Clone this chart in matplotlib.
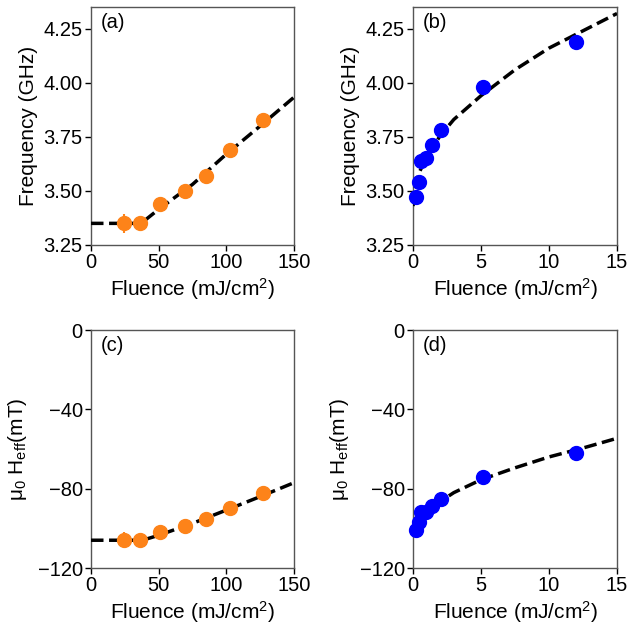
import numpy as np
import matplotlib.pyplot as plt

plt.rcParams['font.family'] = ['Liberation Sans', 'DejaVu Sans']
plt.rcParams['mathtext.default'] = 'regular'

# panel (a)/(c): high fluence, orange
fluence_hi = [24.5, 36, 51, 69.5, 85, 103, 127]
freq_hi = [3.35, 3.35, 3.44, 3.50, 3.57, 3.69, 3.83]
freq_hi_err = [0.045, 0.01, 0.01, 0.01, 0.01, 0.01, 0.01]
heff_hi = [-106, -106, -102, -99, -95.5, -89.6, -82.4]
heff_hi_err = [4, 1, 1, 1, 1, 1, 1]

fit_x_hi = [0, 35, 40, 50, 75, 100, 125, 150]
fit_freq_hi = [3.35, 3.35, 3.365, 3.415, 3.53, 3.67, 3.80, 3.933]
fit_heff_hi = [-106, -106, -105.6, -103.5, -97.5, -90.8, -84, -77]

# panel (b)/(d): low fluence, blue
fluence_lo = [0.25, 0.42, 0.59, 0.98, 1.4, 2.06, 5.15, 12.0]
freq_lo = [3.47, 3.54, 3.64, 3.65, 3.71, 3.78, 3.98, 4.19]
freq_lo_err = [0.01, 0.01, 0.01, 0.01, 0.01, 0.01, 0.01, 0.02]
heff_lo = [-100.9, -97, -91.6, -91.6, -88.6, -85.1, -74.3, -62.2]
heff_lo_err = [1, 1, 1, 1, 1, 1, 1, 3]

fit_x_lo = [0, 0.25, 0.5, 1, 2, 3, 5, 7.5, 10, 12.5, 15]
fit_freq_lo = [3.43, 3.545, 3.59, 3.66, 3.755, 3.83, 3.94, 4.06, 4.16, 4.24, 4.32]
fit_heff_lo = [-103, -98, -95, -92, -86.5, -82, -75.5, -69.5, -64, -59.5, -54.6]

orange = '#fd8319'
blue = '#0000ff'

fig = plt.figure(figsize=(6.29, 6.24), dpi=100)
W, H = 629, 624


def make_ax(x0, x1, y0, y1):
    return fig.add_axes([x0 / W, 1 - y1 / H, (x1 - x0) / W, (y1 - y0) / H])


axa = make_ax(91, 294, 7, 245)
axb = make_ax(413, 617, 7, 245)
axc = make_ax(91, 294, 330, 568)
axd = make_ax(413, 617, 330, 568)

panels = [
    (axa, fit_x_hi, fit_freq_hi, fluence_hi, freq_hi, freq_hi_err, orange, '(a)'),
    (axb, fit_x_lo, fit_freq_lo, fluence_lo, freq_lo, freq_lo_err, blue, '(b)'),
    (axc, fit_x_hi, fit_heff_hi, fluence_hi, heff_hi, heff_hi_err, orange, '(c)'),
    (axd, fit_x_lo, fit_heff_lo, fluence_lo, heff_lo, heff_lo_err, blue, '(d)'),
]

for ax, fx, fy, x, y, yerr, col, lab in panels:
    ax.plot(fx, fy, '--', color='black', lw=2.5, dashes=(3.6, 1.6), zorder=3)
    ax.errorbar(x, y, yerr=yerr, fmt='o', color=col, ms=10, elinewidth=1.5,
                capsize=0, zorder=4, clip_on=False)
    ax.set_xlabel('Fluence (mJ/cm$^2$)', fontsize=15, labelpad=3)
    ax.text(0.05, 0.975, lab, transform=ax.transAxes, ha='left', va='top', fontsize=14.5)
    ax.tick_params(direction='out', length=4, width=1, labelsize=14.5, colors='black', pad=2)
    for s in ax.spines.values():
        s.set_color('#555555')
        s.set_linewidth(1)

for ax in (axa, axc):
    ax.set_xlim(0, 150)
    ax.set_xticks([0, 50, 100, 150])
for ax in (axb, axd):
    ax.set_xlim(0, 15)
    ax.set_xticks([0, 5, 10, 15])

for ax in (axa, axb):
    ax.set_ylim(3.25, 4.35)
    ax.set_yticks([3.25, 3.50, 3.75, 4.00, 4.25])
    ax.set_yticklabels(['3.25', '3.50', '3.75', '4.00', '4.25'])
    ax.set_ylabel('Frequency (GHz)', fontsize=15, labelpad=4)
for ax in (axc, axd):
    ax.set_ylim(-120, 0)
    ax.set_yticks([-120, -80, -40, 0])
    ax.set_yticklabels(['\u2212120', '\u221280', '\u221240', '0'])
    ax.set_ylabel('\u03bc$_0$ H$_{eff}$(mT)', fontsize=15, labelpad=6)

fig.savefig('out.png', dpi=100)
